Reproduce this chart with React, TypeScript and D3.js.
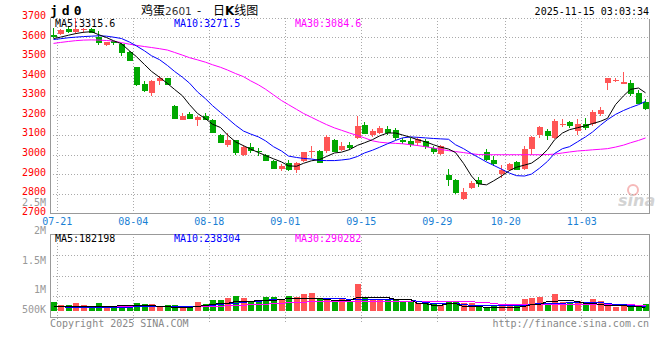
import React, { useEffect, useRef } from "react";
import * as d3 from "d3";

// trading days shown on the chart
const dates = [
  "07-21", "07-22", "07-23", "07-24", "07-25", "07-28", "07-29", "07-30", "07-31",
  "08-01", "08-04", "08-05", "08-06", "08-07", "08-08", "08-11", "08-12", "08-13", "08-14", "08-15",
  "08-18", "08-19", "08-20", "08-21", "08-22", "08-25", "08-26", "08-27", "08-28", "08-29",
  "09-01", "09-02", "09-03", "09-04", "09-05", "09-08", "09-09", "09-10", "09-11", "09-12",
  "09-15", "09-16", "09-17", "09-18", "09-19", "09-22", "09-23", "09-24", "09-25", "09-26",
  "09-29", "09-30", "10-09", "10-10", "10-13", "10-14", "10-15", "10-16", "10-17",
  "10-20", "10-21", "10-22", "10-23", "10-24", "10-27", "10-28", "10-29", "10-30", "10-31",
  "11-03", "11-04", "11-05", "11-06", "11-07", "11-10", "11-11", "11-12", "11-13", "11-14",
];

const opens = [
  3612, 3615, 3641, 3626, 3640, 3644, 3603, 3557, 3578, 3566, 3523, 3447, 3362, 3314, 3377, 3391,
  3250, 3181, 3207, 3175, 3199, 3175, 3102, 3045, 3073, 2996, 3037, 3017, 3000, 2967, 2928, 2957,
  2920, 2966, 3013, 3020, 3016, 3076, 3022, 3049, 3085, 3151, 3098, 3107, 3130, 3127, 3073, 3069,
  3056, 3068, 3034, 3000, 2894, 2872, 2775, 2830, 2872, 3013, 2974, 2903, 2920, 2962, 2928, 3028,
  3098, 3122, 3085, 3155, 3165, 3122, 3158, 3156, 3209, 3365, 3378, 3364, 3368, 3317, 3271,
];
const highs = [
  3646, 3640, 3651, 3697, 3646, 3647, 3632, 3576, 3580, 3570, 3528, 3450, 3374, 3382, 3399, 3392,
  3252, 3212, 3215, 3199, 3212, 3180, 3105, 3110, 3076, 3050, 3058, 3034, 3003, 2970, 2954, 2974,
  2960, 3014, 3045, 3025, 3102, 3080, 3066, 3063, 3198, 3165, 3131, 3148, 3148, 3134, 3085, 3085,
  3090, 3078, 3045, 3051, 2928, 2875, 2830, 2863, 2886, 3028, 2991, 2948, 2957, 2965, 3042, 3093,
  3148, 3130, 3183, 3180, 3170, 3180, 3187, 3229, 3241, 3391, 3391, 3424, 3379, 3328, 3285,
];
const lows = [
  3598, 3612, 3620, 3618, 3622, 3620, 3560, 3555, 3562, 3505, 3476, 3352, 3319, 3300, 3357, 3357,
  3181, 3175, 3180, 3144, 3175, 3108, 3060, 3039, 3000, 2993, 3008, 2991, 2968, 2925, 2915, 2918,
  2903, 2962, 2983, 2957, 3008, 3014, 3020, 3025, 3080, 3105, 3090, 3105, 3102, 3073, 3056, 3037,
  3046, 3030, 3005, 2995, 2838, 2800, 2765, 2822, 2835, 2966, 2940, 2880, 2915, 2920, 2923, 3000,
  3085, 3076, 3080, 3140, 3136, 3102, 3127, 3148, 3195, 3328, 3370, 3362, 3300, 3260, 3230,
];
const closes = [
  3600, 3637, 3626, 3641, 3642, 3626, 3572, 3574, 3566, 3522, 3479, 3357, 3328, 3377, 3391, 3357,
  3181, 3199, 3183, 3190, 3178, 3110, 3063, 3073, 3005, 3039, 3017, 3014, 2971, 2928, 2943, 2920,
  2957, 3011, 3016, 2960, 3090, 3016, 3045, 3034, 3144, 3107, 3119, 3134, 3110, 3085, 3061, 3051,
  3079, 3037, 3012, 3042, 2869, 2804, 2809, 2855, 2852, 2974, 2952, 2923, 2949, 2923, 3030, 3088,
  3139, 3098, 3170, 3158, 3144, 3158, 3136, 3219, 3229, 3391, 3380, 3372, 3314, 3263, 3233,
];

// moving averages as drawn on the chart
const ma5 = [
  3593, 3600, 3610, 3618, 3625, 3628, 3613, 3598, 3582, 3566, 3530, 3500, 3460, 3425, 3395, 3363,
  3333, 3300, 3255, 3210, 3183, 3155, 3138, 3100, 3065, 3045, 3028, 3010, 2995, 2978, 2962, 2942,
  2940, 2955, 2968, 2974, 2990, 3008, 3012, 3025, 3047, 3060, 3076, 3095, 3110, 3110, 3100, 3088,
  3076, 3065, 3050, 3038, 3028, 3010, 2955, 2890, 2850, 2845, 2865, 2890, 2918, 2935, 2946, 2956,
  2985, 3025, 3075, 3110, 3127, 3137, 3147, 3158, 3170, 3185, 3255, 3300, 3333, 3340, 3315.6,
];
const ma10 = [
  3588, 3592, 3597, 3600, 3603, 3605, 3607, 3605, 3600, 3593, 3575, 3555, 3530, 3505, 3485, 3455,
  3425, 3395, 3365, 3320, 3285, 3250, 3215, 3185, 3150, 3120, 3105, 3090, 3070, 3040, 3018, 2992,
  2985, 2980, 2977, 2970, 2969, 2969, 2972, 2977, 2990, 3008, 3022, 3037, 3055, 3072, 3085, 3090,
  3088, 3085, 3082, 3080, 3078, 3050, 3030, 3005, 2985, 2962, 2945, 2925, 2905, 2892, 2890, 2900,
  2930, 2965, 3005, 3030, 3040, 3065, 3090, 3115, 3150, 3178, 3205, 3225, 3240, 3255, 3271.5,
];
const ma30 = [
  3568, 3573, 3578, 3582, 3585, 3586, 3585, 3583, 3580, 3572, 3564, 3558, 3552, 3547, 3541, 3534,
  3522, 3508, 3495, 3484, 3472, 3459, 3446, 3432, 3414, 3398, 3377, 3356, 3334, 3305, 3276, 3255,
  3231, 3210, 3190, 3170, 3153, 3136, 3124, 3110, 3097, 3085, 3070, 3063, 3059, 3057, 3055, 3050,
  3046, 3040, 3033, 3026, 3020, 3015, 3010, 3004, 3000, 2999, 2999, 2999, 2999, 2999, 2999, 2999,
  2999, 3000, 3002, 3008, 3013, 3018, 3021, 3024, 3027, 3030, 3038, 3048, 3060, 3072, 3084.6,
];

const volumes = [
  410000, 270000, 290000, 380000, 270000, 190000, 380000, 240000, 190000, 290000, 190000, 380000,
  330000, 330000, 240000, 290000, 290000, 240000, 190000, 430000, 330000, 520000, 520000, 630000,
  730000, 620000, 480000, 490000, 670000, 670000, 570000, 730000, 680000, 810000, 860000, 620000,
  520000, 440000, 560000, 490000, 1290000, 650000, 570000, 570000, 570000, 520000, 480000, 430000,
  370000, 400000, 330000, 290000, 430000, 430000, 370000, 380000, 250000, 200000, 300000, 350000,
  330000, 270000, 570000, 620000, 670000, 370000, 810000, 410000, 400000, 480000, 350000, 570000,
  460000, 250000, 200000, 320000, 240000, 240000, 330000,
];
const vma5 = [
  240000, 240000, 240000, 240000, 240000, 250000, 260000, 260000, 260000, 270000, 270000, 270000,
  270000, 270000, 260000, 240000, 210000, 180000, 180000, 240000, 270000, 320000, 370000, 400000,
  460000, 490000, 500000, 520000, 520000, 520000, 560000, 600000, 600000, 600000, 600000, 600000,
  550000, 520000, 520000, 520000, 650000, 650000, 650000, 650000, 650000, 570000, 570000, 570000,
  370000, 370000, 290000, 290000, 370000, 370000, 240000, 240000, 220000, 200000, 200000, 200000,
  200000, 200000, 260000, 320000, 320000, 490000, 490000, 520000, 520000, 460000, 400000, 400000,
  340000, 290000, 290000, 290000, 240000, 240000, 182198,
];
const vma10 = [
  220000, 220000, 210000, 210000, 210000, 210000, 210000, 210000, 210000, 210000, 210000, 220000,
  230000, 240000, 240000, 250000, 250000, 250000, 250000, 260000, 270000, 290000, 330000, 370000,
  400000, 430000, 460000, 490000, 520000, 550000, 580000, 610000, 630000, 630000, 630000, 630000,
  610000, 600000, 600000, 590000, 570000, 570000, 570000, 570000, 570000, 570000, 570000, 570000,
  500000, 430000, 400000, 400000, 400000, 380000, 340000, 300000, 290000, 290000, 290000, 290000,
  290000, 290000, 300000, 340000, 370000, 370000, 370000, 400000, 420000, 430000, 430000, 430000,
  420000, 370000, 330000, 320000, 280000, 250000, 238304,
];
const vma30 = [
  240000, 240000, 240000, 240000, 240000, 240000, 240000, 240000, 240000, 240000, 240000, 240000,
  240000, 240000, 240000, 240000, 240000, 240000, 240000, 240000, 240000, 250000, 260000, 270000,
  280000, 300000, 310000, 330000, 350000, 370000, 390000, 410000, 430000, 450000, 460000, 470000,
  480000, 500000, 500000, 500000, 500000, 500000, 500000, 500000, 500000, 500000, 500000, 500000,
  500000, 500000, 500000, 500000, 500000, 500000, 480000, 460000, 440000, 420000, 380000, 340000,
  320000, 320000, 320000, 320000, 320000, 320000, 320000, 320000, 320000, 320000, 320000, 320000,
  320000, 320000, 320000, 320000, 310000, 300000, 290282,
];

const priceTicks = [3700, 3600, 3500, 3400, 3300, 3200, 3100, 3000, 2900, 2800, 2700];
const volTicks = [2500000, 2000000, 1500000, 1000000, 500000];
const volTickLabels = ["2.5M", "2M", "1.5M", "1M", "500K"];
const dateTicks = ["07-21", "08-04", "08-18", "09-01", "09-15", "09-29", "10-20", "11-03"];

const UP = "#ff5555";
const DOWN = "#00a800";
const MONO = "'DejaVu Sans Mono', monospace";

export default function App() {
  const svgRef = useRef<SVGSVGElement>(null);

  useEffect(() => {
    const svg = d3.select(svgRef.current);
    svg.selectAll("*").remove();

    const left = 50;
    const right = 650;
    const priceTop = 17.6;
    const priceBottom = 213.2;
    const volTop = 234;
    const volBottom = 317;
    const volBase = 311;
    const c = (v: number) => Math.round(v) + 0.5;

    const x = d3.scaleBand().domain(dates).range([49.7, 650.1]).padding(0);
    const step = x.step();
    const cx = (d: string) => Math.round(x(d)! + 0.8) + 2.5;
    const y = d3.scaleLinear().domain([2700, 3700]).range([priceBottom, priceTop]);
    const yv = d3.scaleLinear().domain([0, 1000000]).range([volBase, volBase - 21]);
    // sina puts the volume labels at uneven heights
    const volLabelY = d3.scaleLinear().domain(volTicks).range([203, 231, 261, 290, 310]);

    const data = dates.map((d, i) => ({
      d, o: opens[i], h: highs[i], l: lows[i], c: closes[i], v: volumes[i],
    }));
    const col = (k: { o: number; c: number }) => (k.c >= k.o ? UP : DOWN);

    // grid
    const grid = svg.append("g").attr("stroke", "#aaa").attr("stroke-dasharray", "1,2")
      .attr("shape-rendering", "crispEdges");
    priceTicks.slice(0, -1).forEach((t) => {
      grid.append("line").attr("x1", left).attr("x2", right)
        .attr("y1", c(y(t))).attr("y2", c(y(t)));
    });
    [1, 2, 3].forEach((q) => {
      const yy = c(volTop + ((volBottom - volTop) * q) / 4);
      grid.append("line").attr("x1", left).attr("x2", right).attr("y1", yy).attr("y2", yy);
    });
    dateTicks.forEach((d) => {
      const gx = c(x(d)! + step - 0.5);
      grid.append("line").attr("x1", gx).attr("x2", gx).attr("y1", priceTop).attr("y2", priceBottom);
      grid.append("line").attr("x1", gx).attr("x2", gx).attr("y1", volTop).attr("y2", volBottom + 5);
    });

    // frames
    const frame = svg.append("g").attr("stroke", "#999").attr("fill", "none")
      .attr("shape-rendering", "crispEdges");
    frame.append("path").attr("d",
      `M${c(left)},${c(priceTop)}V${c(priceBottom)}H${c(right - 1)}V${c(priceTop)}`);
    frame.append("rect").attr("x", c(left)).attr("y", c(volTop))
      .attr("width", c(right - 1) - c(left)).attr("height", c(volBottom) - c(volTop));

    // candles
    const candles = svg.append("g").attr("shape-rendering", "crispEdges");
    const k = candles.selectAll("g").data(data).join("g");
    k.append("line")
      .attr("x1", (d) => cx(d.d)).attr("x2", (d) => cx(d.d))
      .attr("y1", (d) => y(d.h)).attr("y2", (d) => y(d.l))
      .attr("stroke", col);
    k.append("rect")
      .attr("x", (d) => Math.round(x(d.d)! + 0.8))
      .attr("width", 6)
      .attr("y", (d) => Math.round(y(Math.max(d.o, d.c))))
      .attr("height", (d) => Math.max(1, Math.round(Math.abs(y(d.o) - y(d.c)))))
      .attr("fill", col);

    const priceLine = (arr: number[], color: string) => {
      svg.append("path")
        .datum(arr)
        .attr("d", d3.line<number>().x((_, i) => cx(dates[i])).y((v) => y(v)))
        .attr("fill", "none").attr("stroke", color).attr("stroke-width", 1);
    };
    priceLine(ma30, "#ff00ff");
    priceLine(ma10, "#0000ff");
    priceLine(ma5, "#000");

    // volume
    svg.append("g").attr("shape-rendering", "crispEdges")
      .selectAll("rect").data(data).join("rect")
      .attr("x", (d) => Math.round(x(d.d)! + 0.8))
      .attr("width", 6)
      .attr("y", (d) => Math.round(yv(d.v)))
      .attr("height", (d) => volBase - Math.round(yv(d.v)))
      .attr("fill", col);

    const volLine = (arr: number[], color: string) => {
      svg.append("path")
        .datum(arr)
        .attr("d", d3.line<number>().x((_, i) => cx(dates[i])).y((v) => c(yv(v))))
        .attr("fill", "none").attr("stroke", color).attr("stroke-width", 1)
        .attr("shape-rendering", "crispEdges");
    };
    volLine(vma30, "#ff00ff");
    volLine(vma10, "#0000ff");
    volLine(vma5, "#000");

    // axis labels
    const txt = svg.append("g").style("font-family", MONO).style("font-size", "10px");
    priceTicks.forEach((t) => {
      txt.append("text").attr("x", 46).attr("y", y(t) - 1.5).attr("text-anchor", "end")
        .attr("dominant-baseline", "middle").attr("fill", "#f00").text(t);
    });
    volTicks.forEach((t, i) => {
      txt.append("text").attr("x", 46).attr("y", volLabelY(t)).attr("text-anchor", "end")
        .attr("dominant-baseline", "middle").attr("fill", "#999").text(volTickLabels[i]);
    });
    dateTicks.forEach((d) => {
      txt.append("text").attr("x", x(d)! + step).attr("y", 222).attr("text-anchor", "middle")
        .attr("dominant-baseline", "middle").attr("fill", "#1a7fd4").text(d);
    });

    // legends
    const legend = (yy: number, items: [string, string][]) => {
      const xs = [55, 174, 295];
      items.forEach(([s, color], i) => {
        txt.append("text").attr("x", xs[i]).attr("y", yy).attr("dominant-baseline", "middle")
          .attr("fill", color).text(s);
      });
    };
    legend(23.5, [["MA5:3315.6", "#000"], ["MA10:3271.5", "#0000ff"], ["MA30:3084.6", "#ff00ff"]]);
    legend(238.5, [["MA5:182198", "#000"], ["MA10:238304", "#0000ff"], ["MA30:290282", "#ff00ff"]]);

    // header
    svg.append("text").attr("x", 50).attr("y", 15).attr("fill", "#000")
      .style("font-family", MONO).style("font-size", "13px").style("font-weight", "bold")
      .style("letter-spacing", "4px").text("jd0");
    const title = svg.append("text").attr("y", 15).attr("fill", "#000")
      .style("font-family", "'Noto Sans CJK SC', sans-serif").style("font-size", "12px");
    title.append("tspan").attr("x", 141).text("鸡蛋");
    title.append("tspan").attr("fill", "#333").style("font-family", "'DejaVu Sans', sans-serif")
      .style("font-size", "10.5px").text("2601");
    title.append("tspan").attr("x", 197).text("-");
    title.append("tspan").attr("x", 213).text("日");
    title.append("tspan").style("font-weight", "bold").style("font-family", "'DejaVu Sans', sans-serif")
      .text("K");
    title.append("tspan").text("线图");
    txt.append("text").attr("x", 649).attr("y", 15).attr("text-anchor", "end").attr("fill", "#000")
      .text("2025-11-15 03:03:34");

    // footer
    txt.append("text").attr("x", 50).attr("y", 324).attr("dominant-baseline", "middle")
      .attr("fill", "#888").text("Copyright 2025 SINA.COM");
    txt.append("text").attr("x", 649).attr("y", 324).attr("text-anchor", "end")
      .attr("dominant-baseline", "middle").attr("fill", "#888").text("http://finance.sina.com.cn");

    // watermark
    const wm = svg.append("g").attr("opacity", 0.55);
    wm.append("circle").attr("cx", 633).attr("cy", 190).attr("r", 5)
      .attr("fill", "none").attr("stroke", "#f08080").attr("stroke-width", 2);
    wm.append("text").attr("x", 618).attr("y", 206).attr("fill", "#b0b0b0")
      .style("font-family", "'DejaVu Sans', sans-serif").style("font-size", "16px")
      .style("font-weight", "bold").style("font-style", "italic").text("sina");
  }, []);

  return (
    <svg
      ref={svgRef}
      width={660}
      height={360}
      style={{ position: "absolute", left: 0, top: 0, background: "#fff" }}
    />
  );
}
